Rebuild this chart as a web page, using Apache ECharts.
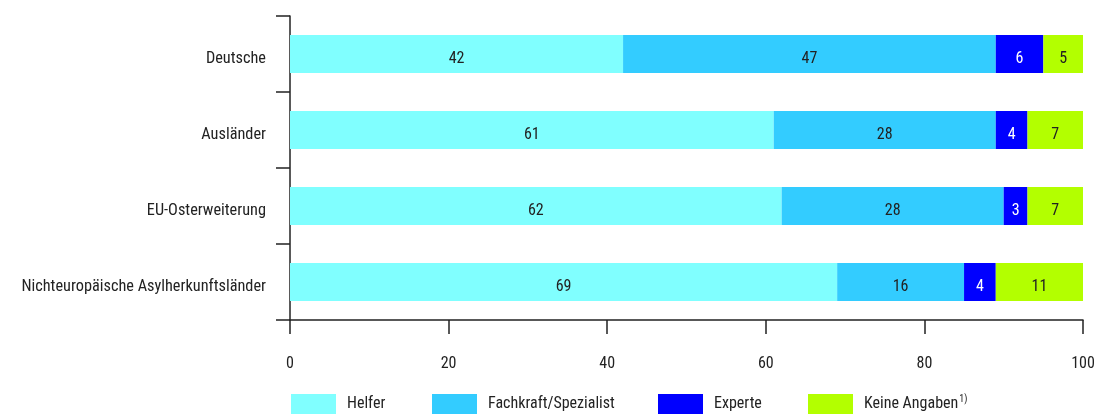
<!DOCTYPE html>
<html>
<head>
<meta charset="utf-8">
<script src="https://cdn.jsdelivr.net/npm/echarts@6/dist/echarts.min.js"></script>
<style>
  html, body { margin: 0; padding: 0; background: #fff; }
  #chart { width: 1098px; height: 414px; }
</style>
</head>
<body>
<div id="chart"></div>
<script>
// Anteile nach Anforderungsniveau, in Prozent
const categories = ['Deutsche', 'Ausländer', 'EU-Osterweiterung', 'Nichteuropäische Asylherkunftsländer'];
const helfer = [42, 61, 62, 69];
const fachkraft = [47, 28, 28, 16];
const experte = [6, 4, 3, 4];
const keineAngaben = [5, 7, 7, 11];
const seriesNames = ['Helfer', 'Fachkraft/Spezialist', 'Experte', 'Keine Angaben'];
const seriesColors = ['#80FFFF', '#33CCFF', '#0000FF', '#B3FF00'];
const labelColors = ['#222', '#222', '#fff', '#222'];
const legendLeft = [291, 432, 658, 808];

const FONT = '"Roboto Condensed", "DejaVu Sans Condensed", sans-serif';
const FS = 16;

const values = [helfer, fachkraft, experte, keineAngaben];

const chart = echarts.init(document.getElementById('chart'), null, { renderer: 'canvas' });

const series = seriesNames.map((name, i) => ({
  name: name,
  type: 'bar',
  stack: 'total',
  barWidth: '50%',
  data: values[i],
  itemStyle: { color: seriesColors[i] },
  label: {
    show: true,
    position: 'inside',
    offset: [0, 5],
    color: labelColors[i],
    fontFamily: FONT,
    fontSize: FS
  },
  emphasis: { disabled: true }
}));

// one legend per entry so each swatch sits at its own position
const legends = seriesNames.map((name, i) => ({
  data: [name],
  left: legendLeft[i],
  top: 394,
  padding: 0,
  itemWidth: 45,
  itemHeight: 22,
  icon: 'rect',
  selectedMode: false,
  formatter: n => n === 'Keine Angaben' ? '{t|Keine Angaben}{s|1)}' : n,
  textStyle: {
    color: '#222',
    fontFamily: FONT,
    fontSize: FS,
    padding: [0, 0, 2, 6],
    rich: {
      t: { fontFamily: FONT, fontSize: FS, color: '#222' },
      s: { fontFamily: FONT, fontSize: 10, color: '#222', verticalAlign: 'top', padding: [0, 0, 9, 1] }
    }
  }
}));

chart.setOption({
  animation: false,
  grid: { left: 290, right: 15, top: 16, bottom: 94, containLabel: false },
  legend: legends,
  xAxis: {
    type: 'value',
    min: 0,
    max: 100,
    interval: 20,
    axisLine: { show: true, lineStyle: { color: '#222', width: 1.5 } },
    axisTick: { show: true, length: 14, lineStyle: { color: '#222', width: 1.5 } },
    axisLabel: { color: '#222', fontFamily: FONT, fontSize: FS, margin: 36 },
    splitLine: { show: false }
  },
  yAxis: {
    type: 'category',
    data: categories,
    inverse: true,
    axisLine: { show: true, lineStyle: { color: '#222', width: 1.5 } },
    axisTick: { show: true, length: 14, alignWithLabel: false, lineStyle: { color: '#222', width: 1.5 } },
    axisLabel: { color: '#222', fontFamily: FONT, fontSize: 16.3, margin: 24, verticalAlign: 'top', lineHeight: 10 },
    splitLine: { show: false }
  },
  series: series
});
</script>
</body>
</html>
